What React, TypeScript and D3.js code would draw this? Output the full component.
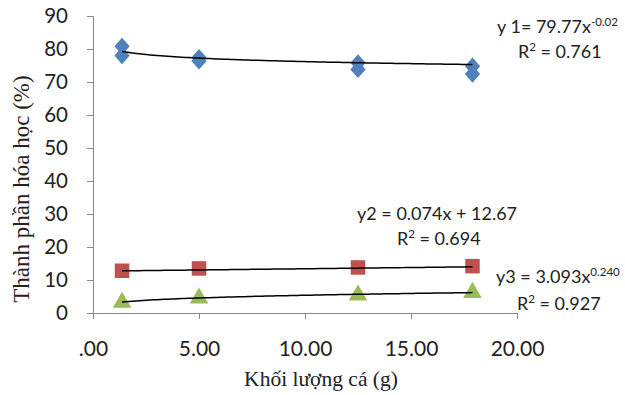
import React, { useRef, useEffect } from 'react';
import * as d3 from 'd3';

const xTicks = [0, 5, 10, 15, 20];
const xTickLabels = ['.00', '5.00', '10.00', '15.00', '20.00'];
const yTicks = [0, 10, 20, 30, 40, 50, 60, 70, 80, 90];

// blue diamonds
const s1x = [1.37, 1.37, 5.0, 5.0, 12.5, 12.5, 17.9, 17.9];
const s1y = [80.8, 78.0, 77.4, 76.4, 75.8, 73.8, 74.8, 72.4];
// red squares
const s2x = [1.37, 5.0, 12.5, 17.9];
const s2y = [12.8, 13.5, 13.8, 14.2];
// green triangles
const s3x = [1.37, 5.0, 12.5, 17.9];
const s3y = [3.2, 4.5, 5.4, 6.2];

// trend line coefficients (from the equations shown)
const fit1 = { a: 79.77, b: -0.02 };
const fit2 = { m: 0.074, c: 12.67 };
const fit3 = { a: 3.093, b: 0.24 };

const W = 625;
const H = 395;

const App = () => {
  const svgRef = useRef<SVGSVGElement>(null);

  useEffect(() => {
    const svg = d3.select(svgRef.current);
    svg.selectAll('*').remove();
    svg.attr('width', W).attr('height', H);

    const x = d3.scaleLinear().domain([0, 20]).range([93, 517]);
    const y = d3.scaleLinear().domain([0, 90]).range([313, 16]);
    const axisColor = '#898989';
    const numFont = 'Lato, "Open Sans", sans-serif';
    const serif = '"Liberation Serif", "Times New Roman", serif';

    // y axis
    const yAxis = svg.append('g').attr('transform', `translate(${x(0)},0)`)
      .call(d3.axisLeft(y).tickValues(yTicks).tickSize(6).tickPadding(19).tickFormat(d3.format('d')));
    yAxis.select('.domain').attr('stroke', axisColor);
    yAxis.selectAll('line').attr('stroke', axisColor);
    yAxis.selectAll('text').attr('font-family', numFont).attr('font-size', 20.5).attr('fill', '#222');

    // x axis
    const xAxis = svg.append('g').attr('transform', `translate(0,${y(0)})`)
      .call(d3.axisBottom(x).tickValues(xTicks).tickSize(6).tickPadding(22)
        .tickFormat((d, i) => xTickLabels[i]));
    xAxis.select('.domain').attr('stroke', axisColor);
    xAxis.selectAll('line').attr('stroke', axisColor);
    xAxis.selectAll('text').attr('font-family', numFont).attr('font-size', 21).attr('fill', '#222');

    // axis titles
    svg.append('text')
      .attr('transform', `translate(29,189) rotate(-90)`)
      .attr('text-anchor', 'middle')
      .attr('font-family', serif)
      .attr('font-size', 23)
      .attr('fill', '#222')
      .text('Thành phần hóa học (%)');
    svg.append('text')
      .attr('x', 321)
      .attr('y', 386)
      .attr('text-anchor', 'middle')
      .attr('font-family', serif)
      .attr('font-size', 21.5)
      .attr('fill', '#222')
      .text('Khối lượng cá (g)');

    // trend lines
    const xs = d3.range(0, 101).map(i => 1.37 + (17.9 - 1.37) * i / 100);
    const line = d3.line<number[]>().x(d => x(d[0])).y(d => y(d[1]));
    const t1 = xs.map(v => [v, fit1.a * Math.pow(v, fit1.b)]);
    const t2 = xs.map(v => [v, fit2.m * v + fit2.c]);
    const t3 = xs.map(v => [v, fit3.a * Math.pow(v, fit3.b)]);

    // markers
    const diamond = d3.symbol().type(d3.symbolDiamond2).size(150);
    const square = d3.symbol().type(d3.symbolSquare).size(210);
    const tri = d3.symbol().type(d3.symbolTriangle).size(150);

    svg.append('g').selectAll('path').data(s1x.map((v, i) => [v, s1y[i]])).enter()
      .append('path').attr('d', diamond)
      .attr('transform', d => `translate(${x(d[0])},${y(d[1])}) scale(1,1.12)`)
      .attr('fill', '#4F81BD');
    svg.append('g').selectAll('path').data(s2x.map((v, i) => [v, s2y[i]])).enter()
      .append('path').attr('d', square)
      .attr('transform', d => `translate(${x(d[0])},${y(d[1])})`)
      .attr('fill', '#C0504D');
    svg.append('g').selectAll('path').data(s3x.map((v, i) => [v, s3y[i]])).enter()
      .append('path').attr('d', tri)
      .attr('transform', d => `translate(${x(d[0])},${y(d[1])})`)
      .attr('fill', '#9BBB59');

    [t1, t2, t3].forEach(t => {
      svg.append('path').datum(t).attr('d', line)
        .attr('fill', 'none').attr('stroke', '#000').attr('stroke-width', 1.5);
    });

    // equations
    const eq = (xp: number, yp: number, main: string, sup: string | null, tail: string) => {
      const t = svg.append('text').attr('x', xp).attr('y', yp)
        .attr('font-family', numFont).attr('font-size', 18).attr('fill', '#222');
      t.append('tspan').text(main);
      if (sup !== null) {
        t.append('tspan').attr('dy', -7).attr('font-size', 11.5).text(sup);
        t.append('tspan').attr('dy', 7).text(tail);
      }
    };
    eq(497, 33, 'y 1= 79.77x', '-0.02', '');
    eq(518, 58, 'R', '2', ' = 0.761');
    eq(357, 220, 'y2 = 0.074x + 12.67', null, '');
    eq(397, 245, 'R', '2', ' = 0.694');
    eq(496, 283, 'y3 = 3.093x', '0.240', '');
    eq(517, 310, 'R', '2', ' = 0.927');
  }, []);

  return <svg ref={svgRef} style={{ position: 'absolute', left: 0, top: 0, background: '#fff' }}></svg>;
};

export default App;
